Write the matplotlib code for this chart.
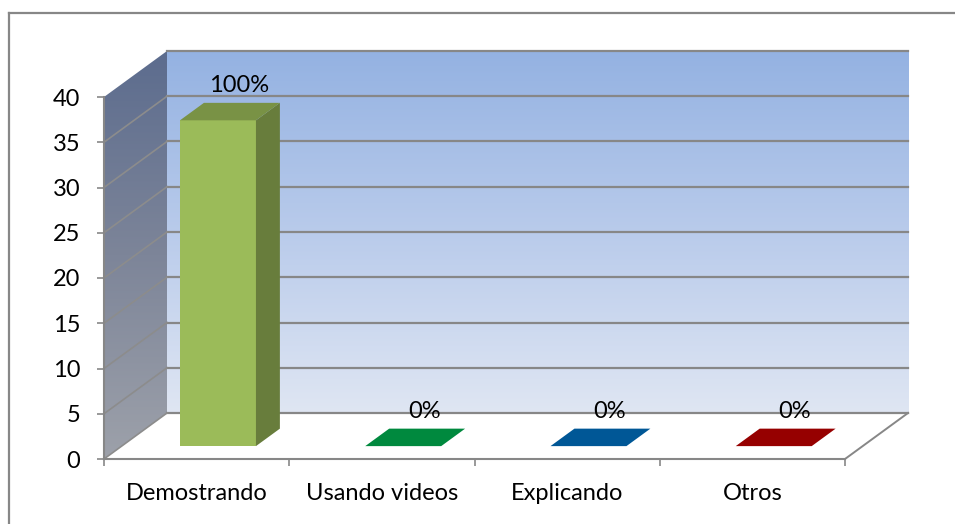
import numpy as np
import matplotlib
matplotlib.use("Agg")
import matplotlib.pyplot as plt
from matplotlib.patches import Polygon
from matplotlib.lines import Line2D
from matplotlib.colors import to_rgb, LinearSegmentedColormap

# ---- data ----
categories = ["Demostrando", "Usando videos", "Explicando", "Otros"]
values = [36, 0, 0, 0]
pct_labels = ["100%", "0%", "0%", "0%"]
bar_colors = ["#9BBB59", "#00B050", "#0070C0", "#C00000"]
y_ticks = [0, 5, 10, 15, 20, 25, 30, 35, 40]

plt.rcParams['font.family'] = ['Lato', 'DejaVu Sans']
FS = 17

W, H = 955, 524
fig = plt.figure(figsize=(W / 100, H / 100), dpi=100)
L, R, B, T = 104, 845, 459, 97
ax = fig.add_axes([L / W, 1 - B / H, (R - L) / W, (B - T) / H])
n = len(categories)
ymax = y_ticks[-1]
ax.set_xlim(0, n)
ax.set_ylim(0, ymax)
ax.patch.set_visible(False)

# depth offsets expressed in data units
px_x = (R - L) / n
px_y = (B - T) / ymax
DX = 63 / px_x
DY = 46 / px_y


def P(x, v, d):
    return (x + d * DX, v + d * DY)


grey = "#878787"

# back wall gradient
grad = np.linspace(0, 1, 256).reshape(-1, 1)
back_cmap = LinearSegmentedColormap.from_list("bw", ["#dfe6f3", "#b9cbeb", "#94b2e2"])
im = ax.imshow(grad, cmap=back_cmap, origin='lower', aspect='auto',
               extent=(DX, n + DX, DY, ymax + DY), zorder=0, interpolation='bilinear')
im.set_clip_on(False)

# side wall gradient, clipped to parallelogram
side_cmap = LinearSegmentedColormap.from_list("sw", ["#9da1aa", "#7d8599", "#5c6c8e"])
im2 = ax.imshow(grad, cmap=side_cmap, origin='lower', aspect='auto',
                extent=(0, DX, 0, ymax + DY), zorder=0.5, interpolation='bilinear')
side_poly = Polygon([P(0, 0, 0), P(0, 0, 1), P(0, ymax, 1), P(0, ymax, 0)],
                    closed=True, transform=ax.transData, facecolor='none', edgecolor='none')
im2.set_clip_path(side_poly)
im2.set_clip_box(fig.bbox)

# gridlines
for v in y_ticks:
    x0, y0 = P(0, v, 1)
    x1, y1 = P(n, v, 1)
    ax.add_line(Line2D([x0, x1], [y0, y1], color=grey, lw=1.6, zorder=1, clip_on=False))
    if v < ymax:
        a = P(0, v, 0)
        b = P(0, v, 1)
        ax.add_line(Line2D([a[0], b[0]], [a[1], b[1]], color="#8c8c8c", lw=1.2, zorder=1, clip_on=False))
a = P(n, 0, 0)
b = P(n, 0, 1)
ax.add_line(Line2D([a[0], b[0]], [a[1], b[1]], color=grey, lw=1.4, zorder=1, clip_on=False))


def shade(c, f):
    r, g, b_ = to_rgb(c)
    return (r * f, g * f, b_ * f)


# bars
d0, d1 = 0.28, 0.66
hw = 0.205
for i, (v, c, lbl) in enumerate(zip(values, bar_colors, pct_labels)):
    xc = i + 0.52
    x0, x1 = xc - hw, xc + hw
    if v > 0:
        ax.add_patch(Polygon([P(x0, 0, d0), P(x1, 0, d0), P(x1, v, d0), P(x0, v, d0)],
                             closed=True, facecolor=c, edgecolor='none', zorder=3, clip_on=False))
        ax.add_patch(Polygon([P(x1, 0, d0), P(x1, 0, d1), P(x1, v, d1), P(x1, v, d0)],
                             closed=True, facecolor=shade(c, 0.67), edgecolor='none', zorder=3, clip_on=False))
    ax.add_patch(Polygon([P(x0, v, d0), P(x1, v, d0), P(x1, v, d1), P(x0, v, d1)],
                         closed=True, facecolor=shade(c, 0.78), edgecolor='none', zorder=3, clip_on=False))
    ax.annotate(lbl, xy=P(xc, v, d1), xytext=(-2, 8), textcoords='offset points',
                ha='center', va='baseline', fontsize=FS, color='black',
                annotation_clip=False, zorder=5)

# axes
for s in ['top', 'right']:
    ax.spines[s].set_visible(False)
for s in ['left', 'bottom']:
    ax.spines[s].set_color(grey)
    ax.spines[s].set_linewidth(1.5)
    ax.spines[s].set_zorder(2)
ax.set_yticks(y_ticks)
ax.set_yticklabels([str(t) for t in y_ticks])
ax.tick_params(axis='y', length=5, width=1.2, color=grey, pad=12, labelsize=FS)
ax.set_xticks(range(n + 1))
ax.set_xticklabels([])
ax.set_xticks([i + 0.5 for i in range(n)], minor=True)
ax.set_xticklabels(categories, minor=True)
ax.tick_params(axis='x', which='major', length=5, width=1.2, color=grey)
ax.tick_params(axis='x', which='minor', length=0, pad=17, labelsize=FS)

# outer chart border (left & top visible)
fig.add_artist(Line2D([9 / W, 9 / W], [0, 1 - 13 / H], transform=fig.transFigure, color=grey, lw=1.6))
fig.add_artist(Line2D([9 / W, 1], [1 - 13 / H, 1 - 13 / H], transform=fig.transFigure, color=grey, lw=1.6))

fig.savefig("out.png", dpi=100)
